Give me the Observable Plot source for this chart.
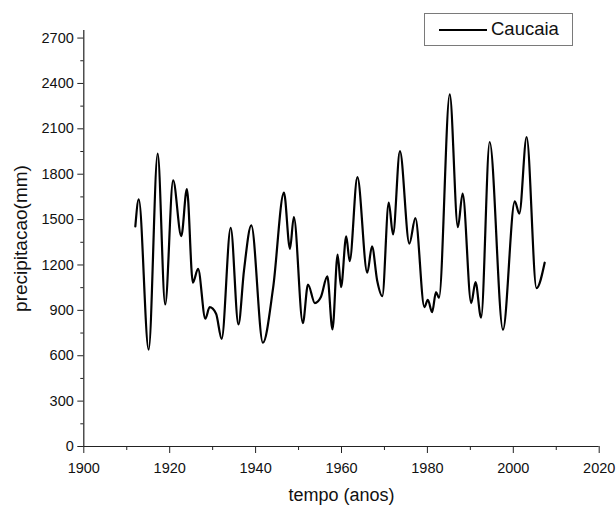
<!DOCTYPE html>
<html>
<head>
<meta charset="utf-8">
<script src="https://cdn.jsdelivr.net/npm/d3@7"></script>
<script src="https://cdn.jsdelivr.net/npm/@observablehq/plot@0.6"></script>
<style>
  html, body { margin: 0; padding: 0; background: #fff; }
  #wrap { position: relative; width: 616px; height: 509px; font-family: "Liberation Sans", Arial, sans-serif; }
  #legend { position: absolute; left: 424px; top: 13px; width: 147px; height: 31px; border: 1px solid #7a7a7a; background: #fff; }
  #legend .sw { position: absolute; left: 14px; top: 15px; width: 48px; height: 0; border-top: 2px solid #000; }
  #legend .lb { position: absolute; left: 66px; top: 3px; font-size: 18.5px; line-height: 24px; color: #111; }
</style>
</head>
<body>
<div id="wrap"><div id="legend"><div class="sw"></div><div class="lb">Caucaia</div></div></div>
<script>
// Curve turning points (year, precipitation mm)
const years = [1912.0, 1912.8, 1915.1, 1917.2, 1918.95, 1920.8, 1922.7, 1924.0, 1925.4, 1926.6,
  1928.3, 1929.3, 1930.8, 1932.1, 1934.2, 1936.0, 1937.3, 1939.0, 1941.7, 1944.1,
  1946.6, 1948.0, 1948.9, 1951.0, 1952.2, 1953.8, 1955.2, 1956.7, 1957.9, 1959.1,
  1959.9, 1961.1, 1961.9, 1963.7, 1966.0, 1967.1, 1968.3, 1969.5, 1971.0, 1972.0,
  1973.6, 1975.8, 1977.2, 1979.3, 1980.1, 1981.1, 1982.0, 1982.7, 1985.2, 1987.1,
  1988.2, 1990.2, 1991.2, 1992.5, 1994.5, 1997.6, 2000.35, 2001.4, 2003.1, 2005.4, 2007.3];
const precip = [1455, 1633, 640, 1936, 939, 1759, 1391, 1702, 1083, 1175,
  845, 921, 878, 712, 1446, 807, 1164, 1462, 686, 1054,
  1678, 1307, 1517, 816, 1071, 948, 988, 1124, 774, 1268,
  1054, 1389, 1226, 1781, 1149, 1323, 1098, 994, 1612, 1402,
  1953, 1341, 1510, 921, 970, 888, 1021, 983, 2328, 1450,
  1671, 948, 1087, 851, 2013, 772, 1620, 1539, 2046, 1047, 1215];
const seriesName = "Caucaia";
const xMajor = [1900, 1920, 1940, 1960, 1980, 2000, 2020];
const xMinor = [1910, 1930, 1950, 1970, 1990, 2010];
const yMajor = [0, 300, 600, 900, 1200, 1500, 1800, 2100, 2400, 2700];
const yMinor = [150, 450, 750, 1050, 1350, 1650, 1950, 2250, 2550];
const xTitle = "tempo (anos)";
const yTitle = "precipitacao(mm)";

const data = years.map((y, i) => ({year: y, p: precip[i]}));

const chart = Plot.plot({
  width: 616,
  height: 509,
  marginLeft: 83.3,
  marginRight: 17.3,
  marginTop: 30,
  marginBottom: 63,
  style: {fontFamily: "'Liberation Sans', Arial, sans-serif", fontSize: "14px", color: "#111", background: "transparent"},
  x: {domain: [1900, 2020]},
  y: {domain: [0, 2750]},
  marks: [
    Plot.axisX({ticks: xMajor, tickSize: 7, tickPadding: 9, tickFormat: d => String(d), label: null, fontSize: 14.5, stroke: "#222"}),
    Plot.axisX({ticks: xMinor, tickSize: 4, tickFormat: () => "", label: null, stroke: "#222"}),
    Plot.axisY({ticks: yMajor, tickSize: 6, tickPadding: 4, tickFormat: d => String(d), label: null, fontSize: 14.5, stroke: "#222"}),
    Plot.axisY({ticks: yMinor, tickSize: 3, tickFormat: () => "", label: null, stroke: "#222"}),
    Plot.ruleX([1900], {stroke: "#222", strokeWidth: 1.2}),
    Plot.ruleY([0], {stroke: "#222", strokeWidth: 1.2}),
    Plot.line(data, {x: "year", y: "p", curve: "monotone-x", stroke: "#000", strokeWidth: 2.2}),
    Plot.text([xTitle], {frameAnchor: "bottom", dy: 49, lineAnchor: "middle", textAnchor: "middle", fontSize: 18, fill: "#111"}),
    Plot.text([yTitle], {frameAnchor: "left", dx: -63, rotate: -90, lineAnchor: "middle", textAnchor: "middle", fontSize: 19, fill: "#111"})
  ]
});
document.getElementById("wrap").prepend(chart);
document.querySelector("#legend .lb").textContent = seriesName;
</script>
</body>
</html>
